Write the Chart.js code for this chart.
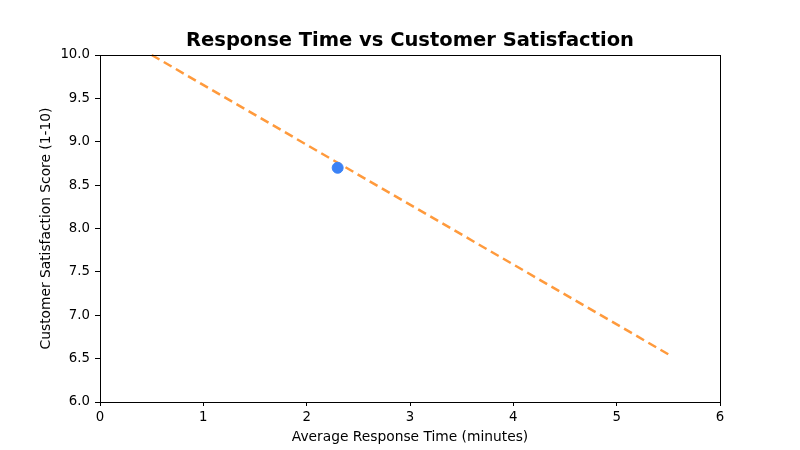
<!DOCTYPE html>
<html>
<head>
<meta charset="utf-8">
<script src="https://cdn.jsdelivr.net/npm/chart.js@4"></script>
<style>
html,body{margin:0;padding:0;background:#fff;}
#wrap{width:800px;height:450px;}
</style>
</head>
<body>
<div id="wrap"><canvas id="c" width="800" height="450"></canvas></div>
<script>
const chartTitle = "Response Time vs Customer Satisfaction";
const xTitle = "Average Response Time (minutes)";
const yTitle = "Customer Satisfaction Score (1-10)";
const pointX = [2.3];
const pointY = [8.7];
const trendX = [0.5, 5.5];
const trendY = [10.0, 6.55];
const xTicks = [0, 1, 2, 3, 4, 5, 6];
const yTicks = [6.0, 6.5, 7.0, 7.5, 8.0, 8.5, 9.0, 9.5, 10.0];

const font = "'DejaVu Sans', sans-serif";

const frame = {
  id: 'frame',
  afterDraw(chart) {
    const {ctx, chartArea: a} = chart;
    ctx.save();
    ctx.strokeStyle = '#000';
    ctx.lineWidth = 1;
    ctx.strokeRect(Math.round(a.left) + 0.5, Math.round(a.top) + 0.5, Math.round(a.right - a.left), Math.round(a.bottom - a.top));
    ctx.fillStyle = '#000';
    ctx.font = "bold 19.5px " + font;
    ctx.textAlign = 'center';
    ctx.textBaseline = 'middle';
    ctx.fillText(chartTitle, (a.left + a.right) / 2, 41);
    ctx.restore();
  }
};

new Chart(document.getElementById('c'), {
  type: 'scatter',
  data: {
    datasets: [
      {
        type: 'line',
        data: trendX.map((x, i) => ({x, y: trendY[i]})),
        borderColor: '#ff9a3c',
        borderWidth: 2.5,
        borderDash: [9, 5],
        pointRadius: 0,
        fill: false,
        tension: 0,
        order: 2
      },
      {
        type: 'scatter',
        data: pointX.map((x, i) => ({x, y: pointY[i]})),
        backgroundColor: '#3b82f6',
        borderColor: '#3b82f6',
        pointRadius: 5.5,
        order: 1
      }
    ]
  },
  options: {
    responsive: false,
    animation: false,
    clip: false,
    layout: {padding: {top: 55, right: 80, left: 0, bottom: 0}},
    plugins: {legend: {display: false}, title: {display: false}, tooltip: {enabled: false}},
    scales: {
      x: {
        type: 'linear', min: 0, max: 6,
        afterBuildTicks(s) { s.ticks = xTicks.map(v => ({value: v})); },
        afterFit(s) { s.height = 48; },
        grid: {drawOnChartArea: false, tickLength: 4, color: '#000', tickColor: '#000'},
        border: {color: '#000', width: 1},
        ticks: {color: '#000', font: {family: font, size: 13.3}, padding: 4, callback: v => String(v)},
        title: {display: true, text: xTitle, color: '#000', font: {family: font, size: 13.8}, padding: {top: 0, bottom: 4}}
      },
      y: {
        type: 'linear', min: 6, max: 10,
        afterBuildTicks(s) { s.ticks = yTicks.map(v => ({value: v})); },
        afterFit(s) { s.width = 100; },
        grid: {drawOnChartArea: false, tickLength: 5, color: '#000', tickColor: '#000'},
        border: {color: '#000', width: 1},
        ticks: {color: '#000', font: {family: font, size: 13.3}, padding: 5, callback: v => Number(v).toFixed(1)},
        title: {display: true, text: yTitle, color: '#000', font: {family: font, size: 13.8}, padding: {top: 38, bottom: 0}}
      }
    }
  },
  plugins: [frame]
});
</script>
</body>
</html>
